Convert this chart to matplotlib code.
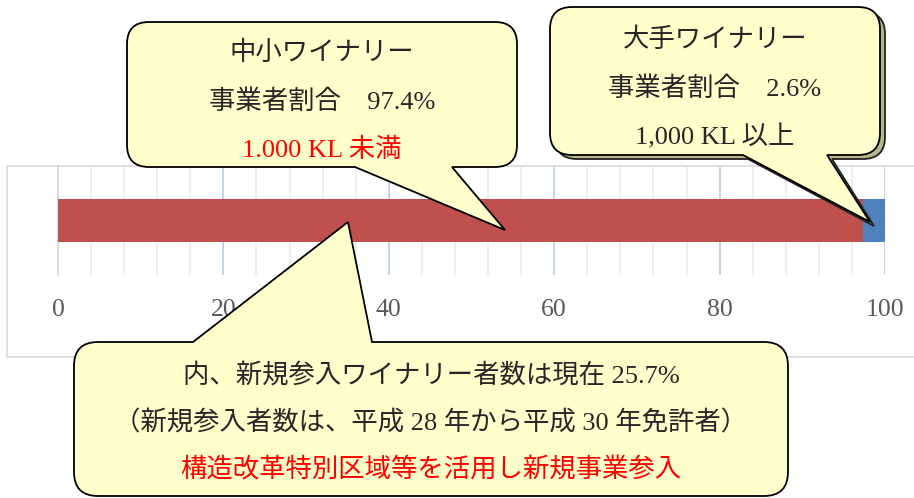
import matplotlib
matplotlib.use('Agg')
import matplotlib.pyplot as plt
from matplotlib.path import Path
from matplotlib.patches import PathPatch, Rectangle

plt.rcParams['font.family'] = ['Liberation Serif', 'Noto Sans CJK JP']

# data
categories = ['中小ワイナリー', '大手ワイナリー']
shares = [97.4, 2.6]
bar_colors = ['#C0504D', '#4F81BD']
xticks = [0, 20, 40, 60, 80, 100]
minor_ticks = [4, 8, 12, 16, 24, 28, 32, 36, 44, 48, 52, 56, 64, 68, 72, 76, 84, 88, 92, 96]

small_lines = ['中小ワイナリー', '事業者割合\u300097.4%', '1.000 KL 未満']
large_lines = ['大手ワイナリー', '事業者割合\u30002.6%', '1,000 KL 以上']
new_lines = ['内、新規参入ワイナリー者数は現在 25.7%',
             '（新規参入者数は、平成 28 年から平成 30 年免許者）',
             '構造改革特別区域等を活用し新規事業参入']

W, H = 914, 498
fig = plt.figure(figsize=(W / 100, H / 100), dpi=100)

# bar chart axes (pixel layout: x 58..885, y 166..275)
ax = fig.add_axes((58 / W, (H - 275) / H, 827 / W, 109 / H))
left = 0
for val, col in zip(shares, bar_colors):
    ax.barh(0.5, val, height=0.4, left=left, color=col, zorder=3)
    left += val
ax.set_xlim(0, 100)
ax.set_ylim(0, 1)
ax.set_xticks(xticks)
ax.set_xticks(minor_ticks, minor=True)
ax.set_yticks([])
ax.grid(which='major', axis='x', color='#B9CDE5', lw=1.2, zorder=1)
ax.grid(which='minor', axis='x', color='#EBEBEB', lw=1.2, zorder=1)
for s in ['top', 'right', 'bottom']:
    ax.spines[s].set_visible(False)
ax.spines['left'].set_color('#D9D9D9')
ax.spines['left'].set_linewidth(1.2)
ax.tick_params(axis='x', which='both', length=0, pad=17, labelsize=18.5, labelcolor='#595959')

# overlay in pixel coordinates
ov = fig.add_axes((0, 0, 1, 1), zorder=5)
ov.set_xlim(0, W)
ov.set_ylim(H, 0)
ov.axis('off')
ov.patch.set_alpha(0)

ov.add_patch(Rectangle((7, 166), 920, 191, fill=False, ec='#D9D9D9', lw=1.2))


def callout(x0, y0, x1, y1, r, edge, a, b, tip):
    M, L, C = Path.MOVETO, Path.LINETO, Path.CURVE3
    v = [(x0 + r, y0)]
    c = [M]
    if edge == 'top':
        v += [(a, y0), tip, (b, y0)]
        c += [L, L, L]
    v += [(x1 - r, y0), (x1, y0), (x1, y0 + r), (x1, y1 - r), (x1, y1), (x1 - r, y1)]
    c += [L, C, C, L, C, C]
    if edge == 'bottom':
        v += [(b, y1), tip, (a, y1)]
        c += [L, L, L]
    v += [(x0 + r, y1), (x0, y1), (x0, y1 - r), (x0, y0 + r), (x0, y0), (x0 + r, y0)]
    c += [L, C, C, L, C, C]
    v.append((x0 + r, y0))
    c.append(Path.CLOSEPOLY)
    return Path(v, c)


fc = '#FFFFCC'

# small wineries
p = callout(127, 22, 517, 167, 22, 'bottom', 355, 452, (505, 230))
ov.add_patch(PathPatch(p, fc=fc, ec='black', lw=1.3))
for y, t, col in zip([53, 102, 150], small_lines, ['#262626', '#262626', '#FF0000']):
    ov.text(322, y, t, ha='center', va='center', fontsize=19, color=col)

# large wineries (with shadow)
p_sh = callout(555, 12, 885, 159, 22, 'bottom', 748, 832, (874, 226))
ov.add_patch(PathPatch(p_sh, fc='#B5B58A', ec='#222222', lw=1.3))
p = callout(550, 7, 880, 155, 22, 'bottom', 743, 827, (870, 222))
ov.add_patch(PathPatch(p, fc=fc, ec='black', lw=1.3))
for y, t in zip([40, 89, 137], large_lines):
    ov.text(715, y, t, ha='center', va='center', fontsize=19, color='#262626')

# new entrants
p = callout(74, 342, 788, 496, 24, 'top', 193, 372, (348, 222))
ov.add_patch(PathPatch(p, fc=fc, ec='black', lw=1.3))
for y, t, col in zip([375, 423, 470], new_lines, ['#262626', '#262626', '#FF0000']):
    ov.text(431, y, t, ha='center', va='center', fontsize=19, color=col)

fig.savefig('out.png', dpi=100)
